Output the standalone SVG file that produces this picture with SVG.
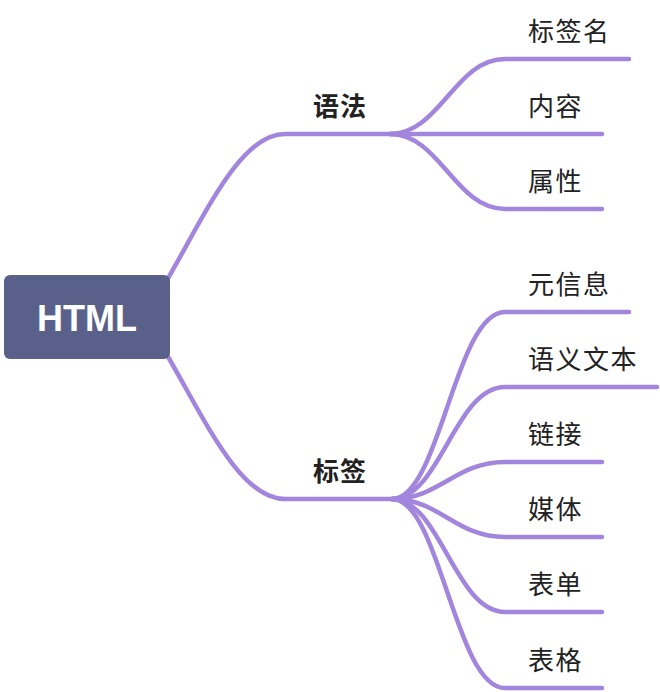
<svg xmlns="http://www.w3.org/2000/svg" width="660" height="692" viewBox="0 0 660 692">
<style>
.edge{fill:none;stroke:#a286dd;stroke-width:4.5;stroke-linecap:round}
.lbl{font-family:"Noto Sans CJK SC","Noto Sans",sans-serif;font-size:26px;fill:#222;letter-spacing:1.5px}
.sub{font-family:"Noto Sans CJK SC","Noto Sans",sans-serif;font-size:26px;font-weight:bold;fill:#222;letter-spacing:1px}
.root{font-family:"Liberation Sans",Arial,sans-serif;font-size:36px;font-weight:bold;fill:#fff;text-anchor:middle}
</style>
<rect width="660" height="692" fill="#fff"/>
<g id="connectors">
<path class="edge" d="M167,280 C205,215 240,134 285,134 H400"/>
<path class="edge" d="M167,355 C205,420 240,499 285,499 H400"/>
<path class="edge" d="M390,134 C440,134 455,59 505,59 H629"/>
<path class="edge" d="M390,134 H602"/>
<path class="edge" d="M390,134 C440,134 455,209 505,209 H602"/>
<path class="edge" d="M392,499 C440,499 455,312 505,312 H629"/>
<path class="edge" d="M392,499 C440,499 455,387 505,387 H657"/>
<path class="edge" d="M392,499 C440,499 455,462 505,462 H602"/>
<path class="edge" d="M392,499 C440,499 455,537 505,537 H602"/>
<path class="edge" d="M392,499 C440,499 455,612 505,612 H602"/>
<path class="edge" d="M392,499 C440,499 455,688 505,688 H602"/>
</g>
<g id="node-root">
<rect x="4" y="275" width="166" height="84" rx="6" fill="#596089"/>
<text class="root" x="87" y="331">HTML</text>
</g>
<g id="node-yufa"><text class="sub" x="313" y="116">语法</text></g>
<g id="node-biaoqian"><text class="sub" x="313" y="481">标签</text></g>
<g id="node-biaoqianming"><text class="lbl" x="528" y="41">标签名</text></g>
<g id="node-neirong"><text class="lbl" x="528" y="116">内容</text></g>
<g id="node-shuxing"><text class="lbl" x="528" y="191">属性</text></g>
<g id="node-yuanxinxi"><text class="lbl" x="528" y="294">元信息</text></g>
<g id="node-yuyiwenben"><text class="lbl" x="528" y="369">语义文本</text></g>
<g id="node-lianjie"><text class="lbl" x="528" y="444">链接</text></g>
<g id="node-meiti"><text class="lbl" x="528" y="519">媒体</text></g>
<g id="node-biaodan"><text class="lbl" x="528" y="594">表单</text></g>
<g id="node-biaoge"><text class="lbl" x="528" y="670">表格</text></g>
</svg>
